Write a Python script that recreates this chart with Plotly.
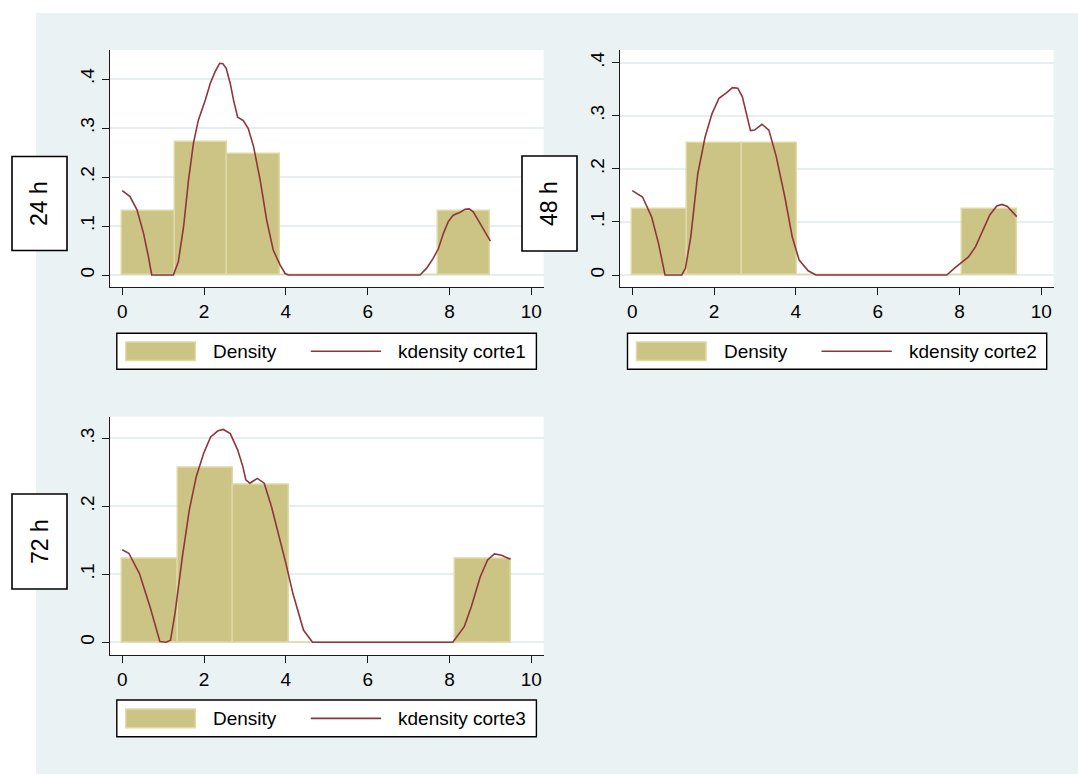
import numpy as np
import plotly.graph_objects as go

# ---------------------------------------------------------------------------
# Data: histogram densities (7 equal-width bins from 0 to the sample maximum)
# and kernel-density estimates for the three cuts.
# ---------------------------------------------------------------------------
panel_titles = ["24 h", "48 h", "72 h"]
series_names = ["corte1", "corte2", "corte3"]

n_bins = 7
bin_max = [9.0, 9.4, 9.5]

density1 = [0.130, 0.271, 0.246, 0.0, 0.0, 0.0, 0.130]
density2 = [0.124, 0.248, 0.248, 0.0, 0.0, 0.0, 0.124]
density3 = [0.1225, 0.257, 0.232, 0.0, 0.0, 0.0, 0.1225]

kd1_x = [0.0, 0.19, 0.36, 0.52, 0.64, 0.72, 1.0, 1.25, 1.37, 1.50, 1.62, 1.74,
         1.86, 2.03, 2.15, 2.27, 2.38, 2.46, 2.54, 2.64, 2.72, 2.82, 2.96, 3.08,
         3.21, 3.37, 3.53, 3.69, 3.86, 3.98, 4.06, 5.5, 7.28, 7.44, 7.60, 7.73,
         7.85, 7.97, 8.09, 8.26, 8.38, 8.48, 8.58, 8.70, 8.87, 9.0]
kd1_y = [0.172, 0.160, 0.133, 0.085, 0.037, 0.0, 0.0, 0.0, 0.027, 0.099, 0.194,
         0.269, 0.316, 0.357, 0.391, 0.415, 0.432, 0.431, 0.422, 0.391, 0.357,
         0.322, 0.315, 0.299, 0.262, 0.194, 0.112, 0.051, 0.020, 0.003, 0.0, 0.0,
         0.0, 0.014, 0.034, 0.054, 0.085, 0.109, 0.122, 0.128, 0.134, 0.135,
         0.129, 0.112, 0.088, 0.069]

kd2_x = [0.0, 0.25, 0.47, 0.64, 0.80, 1.0, 1.21, 1.30, 1.43, 1.60, 1.78, 1.95,
         2.12, 2.30, 2.45, 2.58, 2.69, 2.89, 2.99, 3.17, 3.34, 3.52, 3.73, 3.91,
         4.08, 4.30, 4.49, 6.0, 7.69, 7.87, 8.22, 8.39, 8.56, 8.74, 8.91, 9.04,
         9.17, 9.31, 9.40]
kd2_y = [0.159, 0.147, 0.110, 0.060, 0.0, 0.0, 0.0, 0.0126, 0.072, 0.190, 0.260,
         0.304, 0.333, 0.343, 0.353, 0.352, 0.336, 0.272, 0.273, 0.284, 0.273,
         0.223, 0.147, 0.072, 0.028, 0.008, 0.0, 0.0, 0.0, 0.0126, 0.034, 0.053,
         0.082, 0.113, 0.130, 0.133, 0.129, 0.117, 0.110]

kd3_x = [0.0, 0.16, 0.42, 0.68, 0.92, 1.07, 1.18, 1.29, 1.47, 1.64, 1.81, 1.99,
         2.16, 2.34, 2.47, 2.64, 2.82, 2.95, 3.02, 3.12, 3.30, 3.47, 3.65, 3.82,
         4.0, 4.17, 4.43, 4.65, 6.0, 8.08, 8.36, 8.53, 8.75, 8.93, 9.10, 9.27,
         9.49]
kd3_y = [0.136, 0.131, 0.101, 0.052, 0.001, 0.0, 0.003, 0.043, 0.126, 0.195,
         0.244, 0.278, 0.302, 0.311, 0.313, 0.307, 0.283, 0.258, 0.239, 0.234,
         0.241, 0.234, 0.199, 0.160, 0.116, 0.072, 0.018, 0.0, 0.0, 0.0, 0.023,
         0.052, 0.096, 0.121, 0.130, 0.128, 0.122]

x_ticks = [0, 2, 4, 6, 8, 10]
y_ticks = [[0, 0.1, 0.2, 0.3, 0.4], [0, 0.1, 0.2, 0.3, 0.4], [0, 0.1, 0.2, 0.3]]
y_ticktext = [["0", ".1", ".2", ".3", ".4"], ["0", ".1", ".2", ".3", ".4"],
              ["0", ".1", ".2", ".3"]]

densities = [density1, density2, density3]
kd_xs = [kd1_x, kd2_x, kd3_x]
kd_ys = [kd1_y, kd2_y, kd3_y]

# ---------------------------------------------------------------------------
# Styling / layout (pixel geometry of a 1078 x 774 canvas)
# ---------------------------------------------------------------------------
W, H = 1078, 774
BG = "#EAF2F3"
GRID = "#E6EEF0"
BAR_FILL = "rgb(203,196,132)"
BAR_EDGE = "rgb(222,217,165)"
LINE = "rgb(144,53,59)"
FONT = "Liberation Sans, Arial, sans-serif"


def fx(px):
    return px / W


def fy(py):
    return 1 - py / H


# plot boxes: (left, top, right, bottom) in pixels, plus axis ranges
plot_boxes = [(110, 50, 543.6, 287), (620, 50, 1053.6, 287), (110, 416.7, 543.6, 655)]
x_range = [-0.3, 10.3]
y_ranges = [[-0.0245, 0.4592], [-0.0226, 0.4239], [-0.0187, 0.3318]]
title_boxes = [(12, 156.5, 67, 250.5), (522, 156, 577, 251), (12, 494, 67, 589)]
legend_boxes = [(116.8, 333.3, 536.4, 369.3), (627.5, 333.3, 1046.7, 369.3),
                (116.8, 700, 536.4, 736.7)]

fig = go.Figure()
shapes = []
annotations = []

# outer graph region and white plot regions
shapes.append(dict(type="rect", xref="paper", yref="paper", layer="below",
                   x0=fx(36), x1=1, y0=0, y1=fy(13),
                   fillcolor=BG, line=dict(width=0)))

layout_axes = {}
for i in range(3):
    sfx = "" if i == 0 else str(i + 1)
    xa, ya = "x" + sfx, "y" + sfx
    l, t, r, b = plot_boxes[i]
    shapes.append(dict(type="rect", xref="paper", yref="paper", layer="below",
                       x0=fx(l), x1=fx(r), y0=fy(b), y1=fy(t),
                       fillcolor="white", line=dict(width=0)))

    edges = np.linspace(0, bin_max[i], n_bins + 1)
    centers = (edges[:-1] + edges[1:]) / 2
    width = edges[1] - edges[0]
    fig.add_trace(go.Bar(
        x=centers, y=densities[i], width=[width] * n_bins,
        marker=dict(color=BAR_FILL, line=dict(color=BAR_EDGE, width=1.5)),
        name="Density", showlegend=False, xaxis=xa, yaxis=ya))
    fig.add_trace(go.Scatter(
        x=kd_xs[i], y=kd_ys[i], mode="lines",
        line=dict(color=LINE, width=1.6),
        name="kdensity " + series_names[i], showlegend=False,
        xaxis=xa, yaxis=ya))

    layout_axes["xaxis" + sfx] = dict(
        domain=[fx(l), fx(r)], range=x_range, anchor=ya,
        tickvals=x_ticks, ticktext=[str(v) for v in x_ticks],
        showgrid=False, zeroline=False, showline=True,
        linecolor="#1a1a1a", linewidth=1.4,
        ticks="outside", ticklen=7, tickwidth=1.3, tickcolor="#1a1a1a",
        tickfont=dict(family=FONT, size=19, color="black"),
        fixedrange=True)
    layout_axes["yaxis" + sfx] = dict(
        domain=[fy(b), fy(t)], range=y_ranges[i], anchor=xa,
        tickvals=y_ticks[i], ticktext=y_ticktext[i], tickangle=-90,
        showgrid=True, gridcolor=GRID, gridwidth=2,
        zeroline=False, showline=True,
        linecolor="#1a1a1a", linewidth=1.4,
        ticks="outside", ticklen=7, tickwidth=1.3, tickcolor="#1a1a1a",
        tickfont=dict(family=FONT, size=19, color="black"),
        fixedrange=True)

    # boxed panel title on the left
    tl, tt, tr, tb = title_boxes[i]
    shapes.append(dict(type="rect", xref="paper", yref="paper", layer="above",
                       x0=fx(tl), x1=fx(tr), y0=fy(tb), y1=fy(tt),
                       fillcolor="white", line=dict(color="black", width=1.6)))
    annotations.append(dict(xref="paper", yref="paper",
                            x=fx((tl + tr) / 2), y=fy((tt + tb) / 2),
                            text=panel_titles[i], textangle=-90, showarrow=False,
                            xanchor="center", yanchor="middle",
                            font=dict(family=FONT, size=23, color="black")))

    # legend box
    gl, gt, gr, gb = legend_boxes[i]
    gc = (gt + gb) / 2
    shapes.append(dict(type="rect", xref="paper", yref="paper", layer="above",
                       x0=fx(gl), x1=fx(gr), y0=fy(gb), y1=fy(gt),
                       fillcolor="white", line=dict(color="black", width=1.4)))
    shapes.append(dict(type="rect", xref="paper", yref="paper", layer="above",
                       x0=fx(gl + 9), x1=fx(gl + 78.5), y0=fy(gc + 9.3),
                       y1=fy(gc - 9.3), fillcolor=BAR_FILL,
                       line=dict(color=BAR_EDGE, width=1.5)))
    shapes.append(dict(type="line", xref="paper", yref="paper", layer="above",
                       x0=fx(gl + 194), x1=fx(gl + 264.3), y0=fy(gc), y1=fy(gc),
                       line=dict(color=LINE, width=1.6)))
    annotations.append(dict(xref="paper", yref="paper", x=fx(gl + 94), y=fy(gc),
                            text="Density", showarrow=False,
                            xanchor="left", yanchor="middle",
                            font=dict(family=FONT, size=19, color="black")))
    annotations.append(dict(xref="paper", yref="paper", x=fx(gl + 279), y=fy(gc),
                            text="kdensity " + series_names[i], showarrow=False,
                            xanchor="left", yanchor="middle",
                            font=dict(family=FONT, size=19, color="black")))

fig.update_layout(
    width=W, height=H,
    margin=dict(l=0, r=0, t=0, b=0, pad=0),
    paper_bgcolor="white", plot_bgcolor="white",
    bargap=0, showlegend=False,
    shapes=shapes, annotations=annotations,
    **layout_axes,
)

fig.write_html("out.html")
